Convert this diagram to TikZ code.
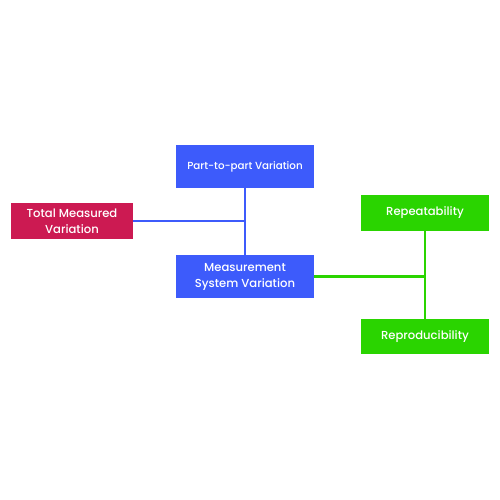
\documentclass[tikz,border=0pt]{standalone}
\usepackage{fontspec}
\setmainfont{Poppins Medium}
\definecolor{partblue}{HTML}{3D5BFB}
\definecolor{totalred}{HTML}{CC1A52}
\definecolor{repgreen}{HTML}{2AD400}
\tikzset{
  box/.style={draw=none, text=white, inner sep=0pt, align=center,
    font=\fontsize{10.3}{13}\selectfont},
  link/.style={line width=2.6pt}
}
\begin{document}
\begin{tikzpicture}[x=1pt,y=-1pt]
\useasboundingbox[fill=white] (0,0) rectangle (500,500);

% blue branch
\node[box, fill=partblue, minimum width=138pt, minimum height=43pt] (part) at (245,166.5) {Part-to-part Variation};
\node[box, fill=partblue, minimum width=138pt, minimum height=43pt,
  font=\fontsize{11.6}{16}\selectfont] (msv) at (245,276.5) {Measurement\\System Variation};
\node[box, fill=totalred, minimum width=122pt, minimum height=36pt,
  font=\fontsize{11.6}{16}\selectfont] (total) at (72,221) {Total Measured\\Variation};

\draw[partblue, link] (part.south) -- (msv.north);
\draw[partblue, link] (total.east) -- (total.east -| part.south);

% green branch
\node[box, fill=repgreen, minimum width=128pt, minimum height=36pt,
  font=\fontsize{11.6}{16}\selectfont] (rpt) at (425,213) {Repeatability};
\node[box, fill=repgreen, minimum width=128pt, minimum height=35pt,
  font=\fontsize{11.6}{16}\selectfont] (rpd) at (425,336.5) {Reproducibility};

\draw[repgreen, link] (rpt.south) -- (rpd.north);
\draw[repgreen, link] (msv.east) -- (msv.east -| rpt.south);

\end{tikzpicture}
\end{document}
